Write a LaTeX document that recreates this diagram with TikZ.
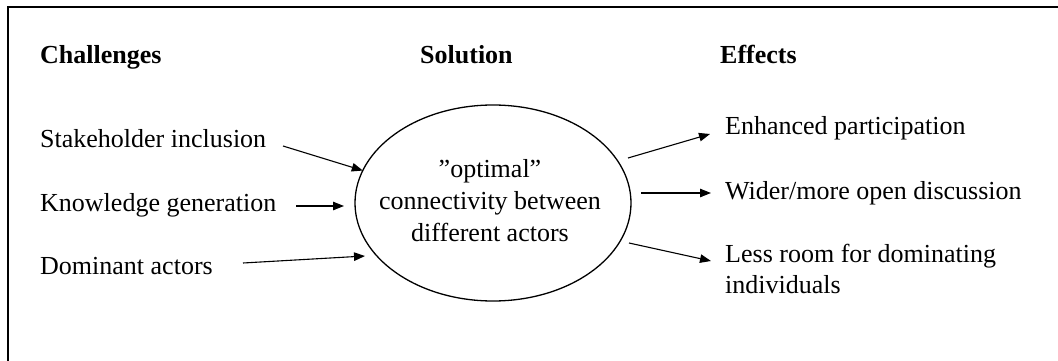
\documentclass[tikz,border=0pt]{standalone}
\usepackage{fontspec}
\setmainfont{Liberation Serif}
\usetikzlibrary{arrows.meta,shapes.geometric}
\begin{document}
\begin{tikzpicture}[x=1pt,y=-1pt,
  txt/.style={anchor=base west,inner sep=0pt,font=\fontsize{26}{32}\selectfont},
  head/.style={txt,font=\fontsize{26}{32}\selectfont\bfseries},
  link/.style={line width=1.1pt,-{Triangle[length=11pt,width=8.5pt]}}]
\useasboundingbox (0,0) rectangle (1058,361);
% open frame: top and left edges
\draw[line width=1.6pt] (8,361) -- (8,7) -- (1058,7);

% column headings
\node[head] (hch) at (40,64) {Challenges};
\node[head] (hso) at (420,64) {Solution};
\node[head] (hef) at (720,64) {Effects};

% challenges
\node[txt] (c1) at (40,147) {Stakeholder inclusion};
\node[txt] (c2) at (40,211) {Knowledge generation};
\node[txt] (c3) at (40,274) {Dominant actors};

% solution
\node[draw,ellipse,line width=1.3pt,minimum width=276pt,minimum height=196pt,
      inner sep=0pt,outer sep=0pt] (sol) at (493,203) {};
\node[align=center,inner sep=0pt,font=\fontsize{26}{32}\selectfont] (soltxt) at (490,201)
  {”optimal”\\connectivity between\\different actors};

% effects
\node[txt] (e1) at (725,134) {Enhanced participation};
\node[txt] (e2) at (725,199) {Wider/more open discussion};
\node[txt] (e3) at (725,262) {Less room for dominating};
\node[txt] (e3b) at (725,293) {individuals};

% arrow ends
\coordinate (c1s) at (283,146);
\coordinate (c2s) at (296,206);
\coordinate (c2e) at (344,206);
\coordinate (c3s) at (243,263);
\coordinate (c3e) at (365,256);
\coordinate (e1s) at (628,158);
\coordinate (e1e) at (710,134);
\coordinate (e2s) at (641,193);
\coordinate (e2e) at (711,193);
\coordinate (e3s) at (629,243);
\coordinate (e3e) at (711,261);

\draw[link] (c1s) -- (sol.166);
\draw[link] (c2s) -- (c2e);
\draw[link] (c3s) -- (c3e);
\draw[link] (e1s) -- (e1e);
\draw[link] (e2s) -- (e2e);
\draw[link] (e3s) -- (e3e);
\end{tikzpicture}
\end{document}
